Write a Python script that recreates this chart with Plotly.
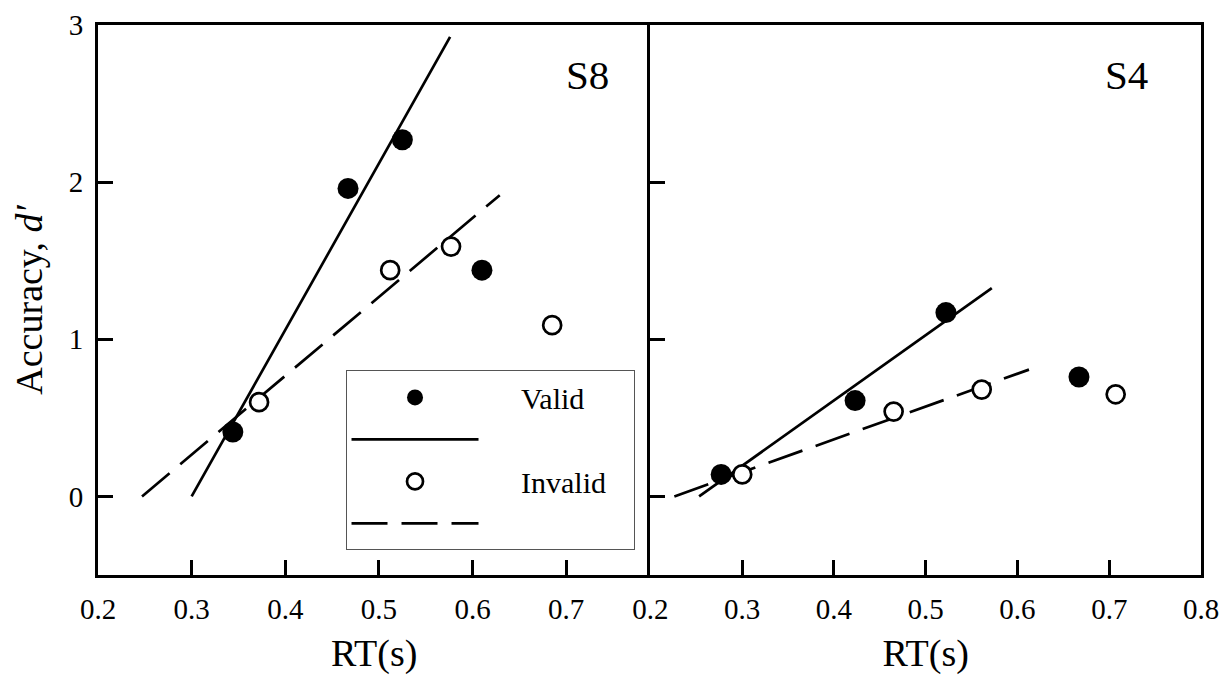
import plotly.graph_objects as go

# ---- data ----
s8_valid_rt = [0.344, 0.467, 0.525, 0.610]
s8_valid_dp = [0.41, 1.96, 2.27, 1.44]
s8_invalid_rt = [0.372, 0.512, 0.577, 0.685]
s8_invalid_dp = [0.60, 1.44, 1.59, 1.09]

s4_valid_rt = [0.277, 0.423, 0.522, 0.667]
s4_valid_dp = [0.14, 0.61, 1.17, 0.76]
s4_invalid_rt = [0.300, 0.465, 0.561, 0.707]
s4_invalid_dp = [0.14, 0.54, 0.68, 0.65]

# fitted lines (end points)
s8_valid_fit_x = [0.300, 0.576]
s8_valid_fit_y = [0.00, 2.925]
s8_invalid_fit_x = [0.247, 0.629]
s8_invalid_fit_y = [0.00, 1.917]
s4_valid_fit_x = [0.253, 0.572]
s4_valid_fit_y = [0.00, 1.325]
s4_invalid_fit_x = [0.226, 0.6125]
s4_invalid_fit_y = [0.00, 0.807]

left_ticks = [0.2, 0.3, 0.4, 0.5, 0.6, 0.7]
right_ticks = [0.2, 0.3, 0.4, 0.5, 0.6, 0.7, 0.8]
y_ticks = [0, 1, 2, 3]
panel_labels = ["S8", "S4"]

FONT = "Liberation Serif"
LW = 2.7
DASH = "36px,14px"
NB = "\u00a0"

fig = go.Figure()

panels = [
    ("x", "y", s8_valid_rt, s8_valid_dp, s8_invalid_rt, s8_invalid_dp,
     s8_valid_fit_x, s8_valid_fit_y, s8_invalid_fit_x, s8_invalid_fit_y, True),
    ("x2", "y2", s4_valid_rt, s4_valid_dp, s4_invalid_rt, s4_invalid_dp,
     s4_valid_fit_x, s4_valid_fit_y, s4_invalid_fit_x, s4_invalid_fit_y, False),
]

for (xa, ya, vx, vy, ix, iy, vfx, vfy, ifx, ify, show) in panels:
    fig.add_trace(go.Scatter(x=vfx, y=vfy, xaxis=xa, yaxis=ya, mode="lines",
                             line=dict(color="black", width=LW),
                             name=NB, legendrank=2, showlegend=show, legendgroup="vl"))
    fig.add_trace(go.Scatter(x=ifx, y=ify, xaxis=xa, yaxis=ya, mode="lines",
                             line=dict(color="black", width=LW, dash=DASH),
                             name=NB * 2, legendrank=4, showlegend=show, legendgroup="il"))
    fig.add_trace(go.Scatter(x=vx, y=vy, xaxis=xa, yaxis=ya, mode="markers",
                             marker=dict(symbol="circle", size=21, color="black",
                                         line=dict(width=0)),
                             name=NB * 5 + "Valid", legendrank=1, showlegend=show,
                             legendgroup="vm"))
    fig.add_trace(go.Scatter(x=ix, y=iy, xaxis=xa, yaxis=ya, mode="markers",
                             marker=dict(symbol="circle", size=18, color="white",
                                         line=dict(width=LW, color="black")),
                             name=NB * 5 + "Invalid" + NB * 3, legendrank=3,
                             showlegend=show, legendgroup="im"))

axis_common = dict(linecolor="black", linewidth=LW,
                   ticks="inside", ticklen=15, tickwidth=LW, tickcolor="black",
                   showgrid=False, zeroline=False, automargin=False,
                   ticklabeloverflow="allow",
                   tickfont=dict(family=FONT, size=29, color="black"))

title_font = dict(family=FONT, size=38, color="black")
split = 0.5009
fig.update_layout(
    width=1214, height=668,
    margin=dict(l=89.5, r=21.4, t=17, b=101),
    paper_bgcolor="white", plot_bgcolor="white",
    font=dict(family=FONT, color="black"),
    xaxis=dict(domain=[0, split], range=[0.2, 0.79], tickvals=left_ticks,
               ticktext=[f"{v:.1f}" for v in left_ticks], showline=True, mirror=True,
               ticklabelstandoff=6,
               title=dict(text="RT(s)", font=title_font, standoff=16),
               **axis_common),
    xaxis2=dict(domain=[split, 1], range=[0.2, 0.8], tickvals=right_ticks,
                ticktext=[f"{v:.1f}" for v in right_ticks], anchor="y2",
                showline=True, mirror=True, ticklabelstandoff=6,
                title=dict(text="RT(s)", font=title_font, standoff=16),
                **axis_common),
    yaxis=dict(range=[-0.5, 3], tickvals=y_ticks, domain=[0, 1],
               showline=True, mirror=False, ticklabelstandoff=6,
               title=dict(text="Accuracy, <i>d′</i>", font=title_font, standoff=28),
               **axis_common),
    yaxis2=dict(range=[-0.5, 3], tickvals=y_ticks, anchor="x2", matches="y",
                showline=True, mirror=True, showticklabels=False, **axis_common),
    legend=dict(x=0.2244, y=0.372, xanchor="left", yanchor="top",
                bgcolor="white", bordercolor="#555555", borderwidth=1,
                font=dict(family=FONT, size=30, color="black"),
                itemwidth=127, tracegroupgap=0, traceorder="normal"),
    annotations=[
        dict(text=panel_labels[0], x=0.723, y=2.68, xref="x", yref="y", showarrow=False,
             font=dict(family=FONT, size=41, color="black")),
        dict(text=panel_labels[1], x=0.7185, y=2.68, xref="x2", yref="y2", showarrow=False,
             font=dict(family=FONT, size=41, color="black")),
    ],
)

fig.write_html("out.html")
